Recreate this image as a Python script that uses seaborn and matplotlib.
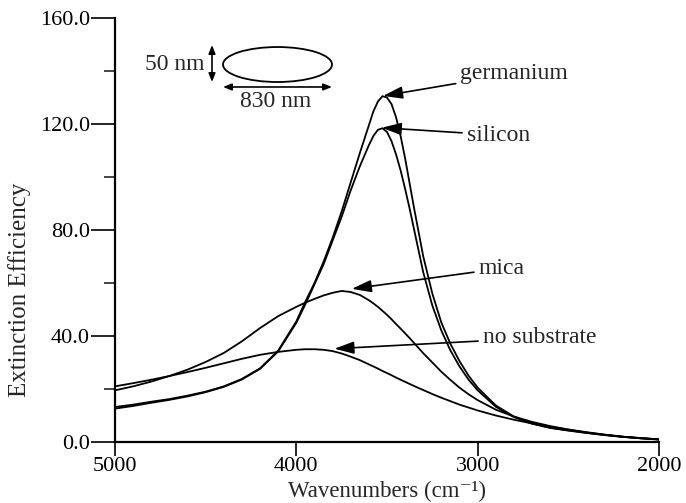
import numpy as np
import pandas as pd
import matplotlib
matplotlib.use("Agg")
import matplotlib.pyplot as plt
from matplotlib.patches import Ellipse
from matplotlib.ticker import FixedLocator
import seaborn as sns

# Wavenumber grid (cm^-1) and extinction efficiencies for each substrate
wavenumber = [5000, 4900, 4800, 4700, 4600, 4500, 4400, 4300, 4200, 4100,
              4000, 3950, 3900, 3850, 3800, 3750, 3700, 3650, 3600, 3575,
              3550, 3525, 3500, 3475, 3450, 3425, 3400, 3375, 3350, 3300,
              3250, 3200, 3150, 3100, 3050, 3000, 2900, 2800, 2700, 2600,
              2500, 2400, 2300, 2200, 2100, 2000]

germanium = [13.2, 14.1, 15.2, 16.2, 17.5, 19.0, 21.0, 23.8, 27.8, 34.5,
             45.5, 53.0, 60.0, 68.0, 77.0, 87.0, 98.0, 109.0, 119.5, 124.8,
             128.5, 130.5, 130.0, 127.5, 122.5, 115.5, 107.0, 97.5, 88.0, 70.0,
             56.0, 45.0, 37.0, 30.5, 25.0, 20.5, 13.8, 9.6, 7.0, 5.4,
             4.4, 3.5, 2.7, 2.0, 1.5, 1.0]

silicon = [12.6, 13.6, 14.8, 15.9, 17.2, 18.8, 20.8, 23.6, 27.6, 34.2,
           45.0, 52.0, 59.5, 67.0, 76.0, 85.0, 95.0, 104.0, 112.0, 115.5,
           117.8, 118.4, 117.0, 113.5, 108.5, 102.5, 95.5, 88.0, 80.0, 64.0,
           51.5, 42.0, 34.5, 28.5, 23.5, 19.5, 13.3, 9.4, 6.9, 5.3,
           4.3, 3.4, 2.6, 1.9, 1.4, 1.0]

mica = [19.5, 21.0, 22.8, 24.9, 27.3, 30.2, 33.6, 38.0, 43.0, 47.5,
        51.0, 52.6, 54.0, 55.3, 56.3, 57.0, 56.6, 55.5, 53.5, 52.3,
        51.0, 49.5, 48.0, 46.3, 44.5, 42.8, 41.0, 39.2, 37.3, 33.5,
        30.0, 26.5, 23.4, 20.5, 18.0, 15.8, 12.2, 9.6, 7.6, 6.0,
        4.7, 3.6, 2.7, 2.0, 1.4, 1.0]

no_substrate = [21.0, 22.2, 23.5, 24.9, 26.4, 28.0, 29.7, 31.4, 32.9, 34.0,
                34.8, 35.0, 35.0, 34.8, 34.3, 33.4, 32.2, 30.9, 29.3, 28.5,
                27.7, 26.8, 26.0, 25.2, 24.3, 23.5, 22.7, 21.9, 21.1, 19.6,
                18.1, 16.7, 15.4, 14.1, 13.0, 11.9, 10.0, 8.4, 7.0, 5.8,
                4.7, 3.7, 2.8, 2.0, 1.4, 0.9]

x_ticks = [5000, 4000, 3000, 2000]
x_tick_labels = ["5000", "4000", "3000", "2000"]
y_ticks = [0, 40, 80, 120, 160]
y_tick_labels = ["0.0", "40.0", "80.0", "120.0", "160.0"]
y_minor_ticks = [20, 60, 100, 140]

series = {
    "germanium": germanium,
    "silicon": silicon,
    "mica": mica,
    "no substrate": no_substrate,
}

frames = [pd.DataFrame({"wavenumber": wavenumber, "efficiency": vals, "substrate": name})
          for name, vals in series.items()]
df = pd.concat(frames, ignore_index=True)

sns.set_style("ticks")
plt.rcParams["font.family"] = ["Liberation Serif", "DejaVu Serif"]

fig = plt.figure(figsize=(6.86, 5.03), dpi=100)
ax = fig.add_axes([115 / 686, 61 / 503, 544 / 686, 424 / 503])

sns.lineplot(data=df, x="wavenumber", y="efficiency", units="substrate",
             estimator=None, color="black", linewidth=1.3, ax=ax, sort=False)

ax.set_xlim(5000, 2000)
ax.set_ylim(0, 160)
ax.set_xticks(x_ticks)
ax.set_xticklabels(x_tick_labels)
ax.set_yticks(y_ticks)
ax.set_yticklabels(y_tick_labels)
ax.yaxis.set_minor_locator(FixedLocator(y_minor_ticks))

fs = 17
ax.tick_params(axis="both", which="major", labelsize=16, direction="out",
               width=1.2, color="black", labelcolor="black")
ax.tick_params(axis="x", which="major", length=10, pad=0.5)
ax.tick_params(axis="y", which="major", length=17, pad=1)
ax.tick_params(axis="y", which="minor", length=8, width=1.2, direction="out")

for side in ["top", "right"]:
    ax.spines[side].set_visible(False)
for side in ["left", "bottom"]:
    ax.spines[side].set_linewidth(1.6)
    ax.spines[side].set_color("black")

ax.set_xlabel("Wavenumbers (cm\u207b\u00b9)", fontsize=16.5, va="bottom")
ax.xaxis.set_label_coords(0.5, -60.5 / 424)
ax.set_ylabel("Extinction Efficiency", fontsize=18, va="center")
ax.yaxis.set_label_coords(-95 / 544, 0.36)

arrow_kw = dict(arrowstyle="-|>,head_length=0.7,head_width=0.22", color="black",
                lw=1.2, shrinkA=1, shrinkB=0)

ax.annotate("germanium", xy=(3522, 130.6), xytext=(3095, 139.0),
            fontsize=fs, va="center", ha="left", arrowprops=arrow_kw)
ax.annotate("silicon", xy=(3529, 118.6), xytext=(3060, 115.8),
            fontsize=fs, va="center", ha="left", arrowprops=arrow_kw)
ax.annotate("mica", xy=(3694, 57.8), xytext=(2995, 65.5),
            fontsize=fs, va="center", ha="left", arrowprops=arrow_kw)
ax.annotate("no substrate", xy=(3790, 35.2), xytext=(2972, 39.3),
            fontsize=fs, va="center", ha="left", arrowprops=arrow_kw)

# Particle sketch: ellipse with its dimensions
ax.add_patch(Ellipse((0.2987, 0.8903), 0.2004, 0.0825, transform=ax.transAxes,
                     fill=False, edgecolor="black", lw=1.3))
dim_kw = dict(arrowstyle="<|-|>,head_length=0.5,head_width=0.2", color="black",
              lw=1.2, shrinkA=0, shrinkB=0)
ax.annotate("", xy=(0.1783, 0.9363), xytext=(0.1783, 0.8490),
            xycoords="axes fraction", textcoords="axes fraction", arrowprops=dim_kw)
ax.annotate("", xy=(0.1985, 0.8373), xytext=(0.3989, 0.8373),
            xycoords="axes fraction", textcoords="axes fraction", arrowprops=dim_kw)
ax.text(0.1654, 0.8915, "50 nm", transform=ax.transAxes, fontsize=fs,
        ha="right", va="center")
ax.text(0.296, 0.803, "830 nm", transform=ax.transAxes, fontsize=fs,
        ha="center", va="center")

fig.savefig("out.png", dpi=100)
